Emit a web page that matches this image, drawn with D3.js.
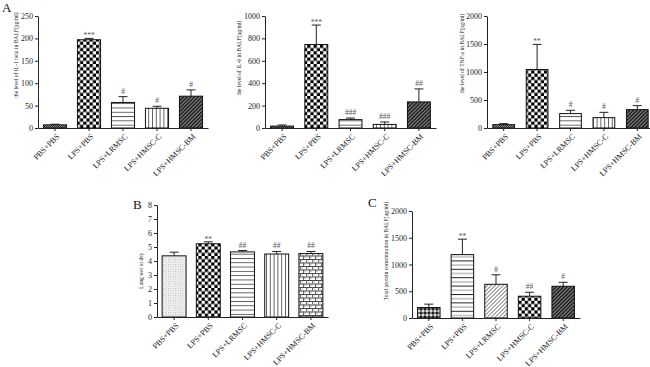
<!DOCTYPE html>
<html>
<head>
<meta charset="utf-8">
<script src="https://cdn.jsdelivr.net/npm/d3@7"></script>
<style>
  html, body { margin: 0; padding: 0; background: #fff; }
  svg { display: block; font-family: "Liberation Serif", "Times New Roman", serif; }
</style>
</head>
<body>
<svg id="chart" width="650" height="367"></svg>
<script>
// ---------- data ----------
const groups = ["PBS+PBS", "LPS+PBS", "LPS+LRMSC", "LPS+HMSC-C", "LPS+HMSC-BM"];

const il1bMean = [7, 197, 57, 44, 71];
const il1bSD   = [1.5, 3, 13, 4.5, 14];
const il1bTicks = [0, 50, 100, 150, 200, 250];
const il1bSig  = ["", "***", "#", "#", "#"];

const il6Mean = [17, 745, 75, 32, 233];
const il6SD   = [10, 174, 14, 22, 116];
const il6Ticks = [0, 200, 400, 600, 800, 1000];
const il6Sig  = ["", "***", "###", "###", "##"];

const tnfMean = [60, 1045, 257, 185, 328];
const tnfSD   = [18, 448, 59, 95, 72];
const tnfTicks = [0, 500, 1000, 1500, 2000];
const tnfSig  = ["", "**", "#", "#", "#"];

const wdMean = [4.37, 5.23, 4.65, 4.50, 4.53];
const wdSD   = [0.26, 0.14, 0.10, 0.18, 0.15];
const wdTicks = [0, 1, 2, 3, 4, 5, 6, 7, 8];
const wdSig  = ["", "**", "##", "##", "##"];

const protMean = [196, 1185, 630, 407, 593];
const protSD   = [63, 289, 177, 74, 74];
const protTicks = [0, 500, 1000, 1500, 2000];
const protSig  = ["", "**", "#", "##", "#"];

// ---------- layout / style ----------
const panels = [
  { mean: il1bMean, sd: il1bSD, ticks: il1bTicks, sig: il1bSig,
    title: "the level of IL-1 beta in BALF(pg/ml)",
    x0: 38, x1: 208, top: 16, bot: 128, pad: 0.32, tX: 18, tY: 55,
    fills: ["fineChecker", "checker", "hlines", "vlines", "diagDark"] },
  { mean: il6Mean, sd: il6SD, ticks: il6Ticks, sig: il6Sig,
    title: "the level of IL-6 in BALF(pg/ml)",
    x0: 265, x1: 436, top: 16, bot: 128, pad: 0.33, tX: 240.5, tY: 58,
    fills: ["fineChecker", "checker", "hlines", "vlines", "diagDark"] },
  { mean: tnfMean, sd: tnfSD, ticks: tnfTicks, sig: tnfSig,
    title: "the level of TNF-a in BALF(pg/ml)",
    x0: 487, x1: 654, top: 16, bot: 128, pad: 0.35, tX: 464, tY: 53.5,
    fills: ["fineChecker", "checker", "hlines", "vlines", "diagDark"] },
  { mean: wdMean, sd: wdSD, ticks: wdTicks, sig: wdSig,
    title: "Lung wet to dry",
    x0: 157, x1: 328, top: 205, bot: 317, pad: 0.3, tX: 143, tY: 271,
    fills: ["dots", "checker", "hlines", "vlines", "brick"] },
  { mean: protMean, sd: protSD, ticks: protTicks, sig: protSig,
    title: "Total protein concentration in BALF(ug/ml)",
    x0: 412, x1: 580, top: 211, bot: 318, pad: 0.33, tX: 387.5, tY: 251,
    fills: ["greyChecker", "hlinesAlt", "diagLight", "checker", "diagDark"] }
];

const panelLetters = [
  { t: "A", x: 2, y: 12 },
  { t: "B", x: 133, y: 209 },
  { t: "C", x: 368, y: 207 }
];

const svg = d3.select("#chart");
const defs = svg.append("defs");

function pat(id, w, h, bg, transform) {
  const p = defs.append("pattern").attr("id", id)
    .attr("patternUnits", "userSpaceOnUse").attr("width", w).attr("height", h);
  if (transform) p.attr("patternTransform", transform);
  p.append("rect").attr("width", w).attr("height", h).attr("fill", bg);
  return p;
}
let p = pat("fineChecker", 2, 2, "#9a9a9a");
p.append("rect").attr("width", 1).attr("height", 1).attr("fill", "#222");
p.append("rect").attr("x", 1).attr("y", 1).attr("width", 1).attr("height", 1).attr("fill", "#222");
p = pat("checker", 6.4, 6.4, "#fff");
p.append("rect").attr("width", 3.2).attr("height", 3.2).attr("fill", "#000");
p.append("rect").attr("x", 3.2).attr("y", 3.2).attr("width", 3.2).attr("height", 3.2).attr("fill", "#000");
p = pat("hlines", 4, 4.3, "#fff");
p.append("rect").attr("y", 0).attr("width", 4).attr("height", 0.9).attr("fill", "#555");
p = pat("vlines", 3.8, 4, "#fff");
p.append("rect").attr("x", 0).attr("width", 0.9).attr("height", 4).attr("fill", "#555");
p = pat("diagDark", 2.6, 4, "#8a8a8a", "rotate(45)");
p.append("rect").attr("width", 1.4).attr("height", 4).attr("fill", "#111");
p = pat("diagLight", 2.8, 4, "#fff", "rotate(45)");
p.append("rect").attr("width", 0.8).attr("height", 4).attr("fill", "#666");
p = pat("dots", 2.4, 2.4, "#fff");
p.append("rect").attr("width", 1).attr("height", 1).attr("fill", "#aaa");
p.append("rect").attr("x", 1.2).attr("y", 1.2).attr("width", 1).attr("height", 1).attr("fill", "#ccc");
p = pat("brick", 6, 7, "#fff");
p.append("rect").attr("y", 0).attr("width", 6).attr("height", 1).attr("fill", "#444");
p.append("rect").attr("y", 3.5).attr("width", 6).attr("height", 1).attr("fill", "#444");
p.append("rect").attr("x", 0).attr("y", 0).attr("width", 1).attr("height", 3.5).attr("fill", "#666");
p.append("rect").attr("x", 3).attr("y", 3.5).attr("width", 1).attr("height", 3.5).attr("fill", "#666");
p.append("rect").attr("x", 1.5).attr("y", 1.5).attr("width", 1).attr("height", 1).attr("fill", "#999");
p.append("rect").attr("x", 4.5).attr("y", 5).attr("width", 1).attr("height", 1).attr("fill", "#999");
p = pat("greyChecker", 4, 4, "#7a7a7a");
p.append("rect").attr("width", 2).attr("height", 2).attr("fill", "#222");
p.append("rect").attr("x", 2).attr("y", 2).attr("width", 2).attr("height", 2).attr("fill", "#ddd");
p = pat("hlinesAlt", 4, 8.4, "#fff");
p.append("rect").attr("y", 0).attr("width", 4).attr("height", 1).attr("fill", "#222");
p.append("rect").attr("y", 4.2).attr("width", 4).attr("height", 1).attr("fill", "#999");

// ---------- draw panels ----------
panels.forEach(cfg => {
  const g = svg.append("g");
  const x = d3.scaleBand().domain(groups).range([cfg.x0, cfg.x1])
    .paddingInner(cfg.pad).paddingOuter(cfg.pad / 2);
  const y = d3.scaleLinear().domain([0, d3.max(cfg.ticks)]).range([cfg.bot, cfg.top]);

  const rows = groups.map((k, i) => ({ k, m: cfg.mean[i], s: cfg.sd[i], sig: cfg.sig[i], f: cfg.fills[i] }));

  const eb = g.append("g").attr("stroke", "#222").attr("stroke-width", 1);
  eb.selectAll("line.v").data(rows).join("line")
    .attr("x1", d => x(d.k) + x.bandwidth() / 2).attr("x2", d => x(d.k) + x.bandwidth() / 2)
    .attr("y1", d => y(d.m)).attr("y2", d => y(d.m + d.s));
  eb.selectAll("line.c").data(rows).join("line")
    .attr("x1", d => x(d.k) + x.bandwidth() / 2 - 4.5).attr("x2", d => x(d.k) + x.bandwidth() / 2 + 4.5)
    .attr("y1", d => y(d.m + d.s)).attr("y2", d => y(d.m + d.s));

  g.selectAll("rect.bar").data(rows).join("rect").attr("class", "bar")
    .attr("x", d => x(d.k)).attr("width", x.bandwidth())
    .attr("y", d => y(d.m)).attr("height", d => y(0) - y(d.m))
    .attr("fill", d => `url(#${d.f})`)
    .attr("stroke", "#111").attr("stroke-width", 1);

  g.selectAll("text.sig").data(rows).join("text")
    .attr("x", d => x(d.k) + x.bandwidth() / 2)
    .attr("y", d => y(d.m + d.s) - (d.sig.includes("*") ? 0 : 3))
    .attr("text-anchor", "middle").attr("font-size", 7.5).attr("fill", "#555")
    .text(d => d.sig);

  const ya = g.append("g").attr("transform", `translate(${cfg.x0},0)`)
    .call(d3.axisLeft(y).tickValues(cfg.ticks).tickFormat(d3.format("d"))
      .tickSize(3).tickSizeOuter(0).tickPadding(2));
  ya.selectAll("text").attr("font-size", 8).attr("fill", "#222")
    .attr("font-family", "Liberation Serif");
  ya.selectAll("line,path").attr("stroke", "#222");

  const xa = g.append("g").attr("transform", `translate(0,${cfg.bot})`)
    .call(d3.axisBottom(x).tickSize(3).tickSizeOuter(0));
  xa.selectAll("line,path").attr("stroke", "#222");
  xa.selectAll("text")
    .attr("font-size", 8).attr("fill", "#222").attr("font-family", "Liberation Serif")
    .attr("text-anchor", "end")
    .attr("dy", 0).attr("y", 0)
    .attr("transform", "translate(5,9) rotate(-45)");

  g.append("text")
    .attr("transform", `translate(${cfg.tX},${cfg.tY}) scale(1.25,1) rotate(-90)`)
    .attr("text-anchor", "middle").attr("font-size", 5.6).attr("fill", "#222")
    .text(cfg.title);
});

svg.selectAll("text.letter").data(panelLetters).join("text")
  .attr("x", d => d.x).attr("y", d => d.y)
  .attr("font-size", 13).attr("fill", "#111")
  .text(d => d.t);
</script>
</body>
</html>
